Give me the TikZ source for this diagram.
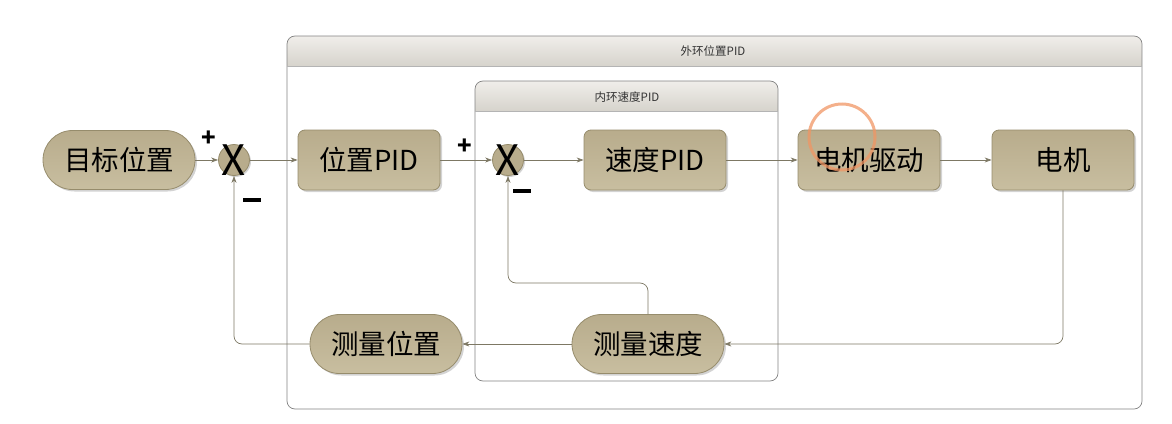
\documentclass[tikz,border=0pt]{standalone}
\usepackage{fontspec}
\setmainfont{Noto Sans CJK SC}
\usetikzlibrary{shadows,arrows.meta}
\definecolor{tanfill}{RGB}{184,172,140}
\definecolor{tanlight}{RGB}{200,190,160}
\definecolor{tanedge}{RGB}{150,140,108}
\definecolor{wire}{RGB}{125,120,100}
\definecolor{framec}{RGB}{130,130,130}
\definecolor{headtop}{RGB}{240,238,234}
\definecolor{headbot}{RGB}{214,211,204}
\definecolor{ring}{RGB}{240,150,100}
\tikzset{
  blk/.style={draw=tanedge, line width=0.8pt, top color=tanfill, bottom color=tanlight,
    rounded corners=7pt, minimum width=142pt, minimum height=60pt, inner sep=0pt,
    font=\fontsize{27.5}{27.5}\selectfont,
    drop shadow={shadow xshift=2pt, shadow yshift=-2pt, fill=gray, opacity=0.35}},
  pill/.style={blk, rounded corners=29.5pt, minimum width=152pt, minimum height=59pt},
  sumc/.style={circle, draw=tanedge, line width=0.8pt, fill=tanfill, minimum size=31pt, inner sep=0pt,
    drop shadow={shadow xshift=1.5pt, shadow yshift=-1.5pt, fill=gray, opacity=0.35}},
  xmark/.style={font=\fontsize{42}{42}\selectfont, inner sep=0pt},
  conn/.style={draw=wire, line width=0.7pt, -{Stealth[length=7pt,width=5pt]}, rounded corners=8pt},
  frm/.style={draw=framec, line width=0.7pt, rounded corners=8pt},
  sign/.style={font=\fontsize{24}{24}\selectfont\bfseries, inner sep=0pt},
  ttl/.style={font=\fontsize{11.5}{11.5}\selectfont, text=black!80},
}
\begin{document}
\begin{tikzpicture}[x=1pt,y=-1pt]
\useasboundingbox (0,0) rectangle (1172,423);
% outer frame
\begin{scope}
\clip[rounded corners=8pt] (287,36) rectangle (1142,409);
\shade[top color=headtop, bottom color=headbot] (287,36) rectangle (1142,66);
\end{scope}
\draw[frm] (287,36) rectangle (1142,409);
\draw[framec!60, line width=0.5pt] (287,66) -- (1142,66);
\node[ttl] (outert) at (713,51) {外环位置PID};
% inner frame
\begin{scope}
\clip[rounded corners=8pt] (475,81) rectangle (778,381);
\shade[top color=headtop, bottom color=headbot] (475,81) rectangle (778,111);
\end{scope}
\draw[frm] (475,81) rectangle (778,381);
\draw[framec!60, line width=0.5pt] (475,111) -- (778,111);
\node[ttl] (innert) at (627,97) {内环速度PID};
% nodes
\node[pill] (target) at (119,160) {目标位置};
\node[sumc] (s1) at (234,160) {};
\node[xmark] (x1) at (234,160) {X};
\node[blk] (ppid) at (369,160) {位置PID};
\node[sumc] (s2) at (508,160) {};
\node[xmark] (x2) at (508,160) {X};
\node[blk] (vpid) at (655,160) {速度PID};
\node[blk] (drv) at (869,160) {电机驱动};
\node[blk] (mot) at (1063,160) {电机};
\node[pill] (mv) at (648,344) {测量速度};
\node[pill] (mp) at (386,344) {测量位置};
% signs
\node[sign] (p1) at (209,139) {+};
\node[sign] (m1) at (252,200) {\rule{18pt}{3.2pt}};
\node[sign] (p2) at (465,147) {+};
\node[sign] (m2) at (522,191) {\rule{18pt}{3.2pt}};
% coordinates
\coordinate (c1) at (1063,344);
\coordinate (c2) at (234,344);
\coordinate (c3) at (648,283);
\coordinate (c4) at (508,283);
% connectors
\draw[conn] (target) -- (s1);
\draw[conn] (s1) -- (ppid);
\draw[conn] (ppid) -- (s2);
\draw[conn] (s2) -- (vpid);
\draw[conn] (vpid) -- (drv);
\draw[conn] (drv) -- (mot);
\draw[conn] (mot.south) -- (c1) -- (mv.east);
\draw[conn] (mv) -- (mp);
\draw[conn] (mp.west) -- (c2) -- (s1.south);
\draw[conn] (mv.north) -- (c3) -- (c4) -- (s2.south);
% cursor highlight ring
\draw[ring, line width=3pt, opacity=0.75] (842,137) circle (33);
\end{tikzpicture}
\end{document}
